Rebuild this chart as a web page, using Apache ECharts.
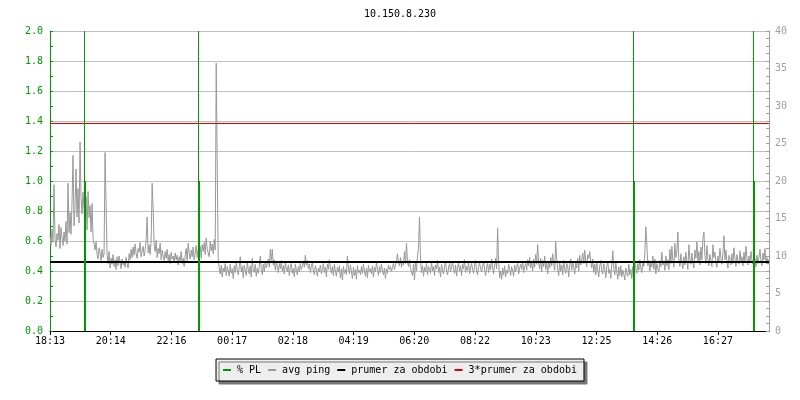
<!DOCTYPE html>
<html>
<head>
<meta charset="utf-8">
<script src="https://cdn.jsdelivr.net/npm/echarts@6/dist/echarts.min.js"></script>
<style>html,body{margin:0;padding:0;background:#fff;}#c{width:800px;height:400px;}</style>
</head>
<body>
<div id="c"></div>
<script>
// ---- data ----
const chartTitle = '10.150.8.230';
const xTickLabels = ['18:13','20:14','22:16','00:17','02:18','04:19','06:20','08:22','10:23','12:25','14:26','16:27'];
const xTickStepMin = 121.27;   // minutes between labelled ticks
const xRangeMin = 1436;        // minutes shown
const sampleStepMin = 2.0;     // minutes between avg ping samples
const plAxisMax = 2.0;
const pingAxisMax = 40;

// avg ping, ms (right axis)
const avgPing = [
12.8,11.5,13.6,11.9,19.5,12.4,11.2,13.0,12.1,14.2,
11.0,13.8,12.5,11.4,13.2,12.0,14.6,11.6,19.7,13.1,
15.8,12.9,17.2,23.4,14.0,16.5,21.6,15.2,19.0,14.4,
25.2,17.8,15.6,18.5,16.2,
14.3,17.9,13.5,18.6,15.1,16.7,13.2,17.0,12.4,11.6,
10.8,11.9,10.2,9.6,11.1,10.4,9.4,10.9,9.8,10.3,
23.8,17.0,10.1,9.0,10.6,8.4,9.7,8.9,10.2,8.6,
9.5,8.2,9.9,8.7,10.0,9.1,8.3,9.6,8.8,9.3,
8.5,9.8,9.0,8.4,10.3,9.5,10.9,9.8,11.2,10.1,
11.6,10.3,9.7,11.0,10.5,11.8,9.9,10.7,11.3,10.0,
10.8,12.2,15.2,10.4,11.5,10.2,12.0,19.7,16.3,11.4,
10.6,12.1,9.8,11.0,10.3,11.7,9.5,10.8,10.0,9.4,
10.6,9.7,10.9,9.3,10.2,9.0,10.5,9.6,10.0,9.2,
10.4,9.5,10.1,8.8,9.9,9.3,10.6,9.0,9.7,8.6,
10.1,11.0,9.4,11.7,10.3,9.6,10.8,9.9,11.2,9.5,
10.4,11.4,9.8,10.9,10.1,11.3,9.7,11.5,10.6,11.8,
10.2,12.4,10.9,11.1,9.9,12.0,10.7,11.6,10.3,12.2,
10.8,35.7,22.1,9.4,8.3,
7.6,8.8,7.2,8.4,7.9,9.0,7.4,8.6,8.1,7.3,
8.9,7.7,8.3,7.0,8.7,7.8,9.1,8.2,7.5,8.5,
9.9,7.9,8.6,7.1,8.8,8.0,7.4,9.2,8.3,7.6,
8.7,7.2,9.7,8.1,7.8,8.9,7.3,8.4,7.7,8.6,
10.0,8.2,7.5,8.9,7.9,9.3,8.4,9.0,9.6,8.5,
10.9,9.4,10.9,8.8,9.5,8.1,9.2,8.6,7.8,9.0,
8.3,9.4,8.0,8.7,7.6,9.1,8.4,7.9,8.8,7.4,
8.5,9.0,7.7,8.3,7.2,8.9,8.1,7.5,8.6,7.9,
9.0,8.2,8.7,9.3,8.5,10.1,8.8,9.4,8.3,8.9,
7.8,8.6,9.2,8.0,7.5,8.7,8.1,7.3,8.4,7.9,
8.8,7.6,8.3,9.0,7.8,8.5,7.2,8.9,8.2,9.5,
8.4,7.7,8.6,7.4,8.9,8.0,7.3,8.5,7.9,8.7,
7.1,8.3,6.8,8.6,7.7,8.2,7.5,10.0,8.4,7.6,
8.8,7.9,7.0,8.5,7.4,8.2,6.9,8.7,7.8,8.1,
7.5,8.6,7.7,8.9,8.0,7.3,8.4,7.1,8.8,7.9,
8.3,7.6,8.7,7.2,8.5,7.9,9.1,8.2,7.4,8.6,
7.8,8.9,8.1,7.5,8.4,7.0,8.3,7.7,8.8,8.2,
8.6,7.9,8.5,9.0,8.2,8.8,9.4,10.3,9.1,8.7,
9.8,8.5,9.3,8.8,10.6,9.0,11.7,9.2,8.6,9.5,8.3,
8.1,7.4,8.9,6.8,9.3,8.0,10.1,11.0,15.2,9.6,
7.8,8.7,7.3,8.5,7.9,9.0,7.5,8.6,8.2,7.7,
9.1,8.0,8.6,7.4,8.8,8.3,9.4,7.8,8.5,7.2,
8.9,8.1,7.6,8.7,9.2,8.0,7.5,8.4,9.0,7.9,
8.6,9.3,8.2,7.7,8.8,7.3,8.5,9.1,8.0,8.7,
7.4,8.9,8.3,9.5,7.8,8.6,8.1,9.2,7.6,8.4,
9.0,8.2,7.7,8.8,9.4,8.0,7.5,8.6,9.1,8.3,
7.9,8.7,9.3,8.1,7.4,8.5,9.0,7.8,8.9,8.2,
9.6,8.4,7.6,8.8,9.7,8.3,13.7,9.2,7.1,8.0,
6.9,8.4,7.5,8.7,7.2,8.1,7.7,8.9,8.3,7.4,
8.6,8.0,7.3,8.8,7.9,8.5,9.1,7.6,8.4,8.9,
8.2,9.3,7.8,8.6,9.0,8.1,9.5,8.7,9.8,8.4,
9.2,8.0,9.6,8.5,10.2,8.9,11.5,9.1,8.3,9.7,
7.9,9.4,8.6,10.0,8.2,9.1,7.6,9.3,8.4,9.8,
8.7,10.3,9.0,8.1,11.9,9.5,8.2,7.4,9.2,8.0,
8.8,7.5,9.4,8.3,7.7,9.0,8.6,7.2,8.9,9.6,
8.1,9.3,8.5,7.6,9.1,8.4,9.7,8.0,10.1,8.8,
9.5,10.4,9.0,10.8,9.3,8.6,10.2,9.7,10.6,9.2,
8.4,9.6,7.8,8.9,7.5,9.2,8.1,7.2,8.7,9.4,
8.0,7.6,9.0,8.3,7.1,8.6,9.3,7.7,8.2,7.0,
8.8,10.7,8.4,7.5,9.1,7.9,6.9,8.5,7.4,8.7,
7.2,8.1,7.6,6.8,8.4,7.8,7.3,8.9,7.5,8.2,
7.0,8.6,7.9,9.2,8.3,7.7,9.0,8.1,9.5,8.4,
7.8,9.3,8.6,10.4,13.9,11.6,8.7,9.4,8.0,9.1,
8.5,10.0,8.2,9.6,7.6,9.0,8.3,7.9,9.4,8.6,
10.5,8.8,9.3,8.1,10.0,8.7,9.5,8.2,10.9,9.0,
11.3,9.4,8.5,11.7,9.8,10.6,13.2,9.2,8.6,10.3,
9.0,8.3,9.9,8.8,10.5,9.3,8.2,11.5,9.6,8.9,
10.4,9.1,8.4,10.8,9.7,11.9,9.3,10.6,8.8,11.2,
9.5,12.3,13.2,10.1,9.0,11.4,9.6,8.7,10.2,9.4,
8.6,11.5,9.8,10.5,9.1,8.5,10.0,9.3,11.0,9.7,
8.9,10.4,12.7,9.5,10.8,9.2,8.4,10.1,9.6,8.8,
10.3,9.0,11.1,9.7,8.6,10.2,9.4,8.9,10.7,9.3,
9.9,8.7,10.5,9.1,11.3,9.6,8.8,10.0,9.2,10.6,
9.4,8.9,10.3,9.7,8.6,10.1,9.0,9.8,10.9,9.3,
8.7,10.4,9.5,11.0,9.1,9.8,8.9,9.6
];
const meanPing = 9.23;          // prumer za obdobi, ms
const meanMultiplier = 3;       // 3*prumer za obdobi

// packet loss events (minutes from start), left axis
const plTimes = [67.9, 295.6, 1164.4, 1404.0];
const plValues = [1.0, 1.0, 1.0, 1.0];
const plPeaks = [2.0, 2.0, 2.0, 2.0];   // runs off the top of the chart

// ---- build ----
const FONT = 'DejaVu Sans Mono';
const GREEN = '#009900', GRAY = '#999999', RED = '#e00000';
const pingData = avgPing.map((v, i) => [i * sampleStepMin, v]);
const plData = plTimes.map((t, i) => [t, plValues[i], plPeaks[i]]);
const tickVals = xTickLabels.map((_, k) => k * xTickStepMin);

function hLine(width, color) {
  return (params, api) => {
    const v = api.value(1);
    const a = api.coord([api.value(0), v]);
    const b = api.coord([api.value(2), v]);
    const y = width % 2 === 1 ? Math.floor(a[1]) + 0.5 : Math.round(a[1]);
    return {type: 'line', shape: {x1: a[0], y1: y, x2: b[0], y2: y},
      style: {stroke: color, lineWidth: width}};
  };
}

const chart = echarts.init(document.getElementById('c'), null, {renderer: 'canvas'});
chart.setOption({
  animation: false,
  backgroundColor: '#ffffff',
  title: {text: chartTitle, left: 'center', top: 4,
    textStyle: {fontFamily: FONT, fontSize: 10, fontWeight: 'normal', color: '#000'}},
  legend: {
    data: ['% PL', 'avg ping', 'prumer za obdobi', '3*prumer za obdobi'],
    left: 'center', top: 359, icon: 'rect', itemWidth: 8, itemHeight: 2, itemGap: 7,
    padding: [6, 7, 6, 7],
    backgroundColor: '#eeeeee', borderColor: '#000', borderWidth: 1, borderRadius: 0,
    shadowColor: '#777', shadowBlur: 0, shadowOffsetX: 3, shadowOffsetY: 3,
    textStyle: {fontFamily: FONT, fontSize: 10, color: '#000', padding: [0, 0, 0, 1]}
  },
  grid: {left: 50, right: 31, top: 31, bottom: 69, containLabel: false},
  xAxis: {
    type: 'value', min: 0, max: xRangeMin,
    axisLine: {show: true, lineStyle: {color: '#000', width: 1}},
    axisTick: {show: true, customValues: tickVals, length: 4, lineStyle: {color: '#000'}},
    axisLabel: {customValues: tickVals, margin: 5, fontFamily: FONT, fontSize: 10, color: '#000',
      formatter: v => xTickLabels[Math.round(v / xTickStepMin)] || ''},
    splitLine: {show: false}
  },
  yAxis: [{
    type: 'value', position: 'left', min: 0, max: plAxisMax, interval: 0.2,
    axisLine: {show: true, lineStyle: {color: GREEN}},
    axisTick: {show: true, inside: true, length: 3, lineStyle: {color: GREEN}},
    minorTick: {show: true, splitNumber: 2, length: 3, lineStyle: {color: GREEN}},
    axisLabel: {margin: 7, fontFamily: FONT, fontSize: 10, color: GREEN, formatter: v => v.toFixed(1)},
    splitLine: {show: true, lineStyle: {color: '#c0c0c0', width: 1}}
  }, {
    type: 'value', position: 'right', min: 0, max: pingAxisMax, interval: 5,
    axisLine: {show: true, lineStyle: {color: '#a0a0a0'}},
    axisTick: {show: true, inside: true, length: 3, lineStyle: {color: '#a0a0a0'}},
    minorTick: {show: true, splitNumber: 5, length: 3, lineStyle: {color: '#a0a0a0'}},
    axisLabel: {margin: 6, fontFamily: FONT, fontSize: 10, color: '#a0a0a0'},
    splitLine: {show: false}
  }],
  series: [{
    name: 'avg ping', type: 'line', yAxisIndex: 1, data: pingData, showSymbol: false,
    symbol: 'none', color: GRAY, lineStyle: {color: GRAY, width: 1}, z: 2
  }, {
    name: 'prumer za obdobi', type: 'custom', yAxisIndex: 1,
    data: [[0, meanPing, xRangeMin]], encode: {x: [0, 2], y: 1},
    color: '#000', itemStyle: {color: '#000'}, z: 3, renderItem: hLine(2, '#000')
  }, {
    name: '3*prumer za obdobi', type: 'custom', yAxisIndex: 1,
    data: [[0, meanMultiplier * meanPing, xRangeMin]], encode: {x: [0, 2], y: 1},
    color: RED, itemStyle: {color: RED}, z: 3, renderItem: hLine(1, RED)
  }, {
    name: '% PL', type: 'custom', yAxisIndex: 0, data: plData, color: GREEN, itemStyle: {color: GREEN},
    encode: {x: 0, y: [1, 2]}, z: 4, clip: true,
    renderItem: (params, api) => {
      const t = api.value(0);
      const p0 = api.coord([t, 0]);
      const p1 = api.coord([t, api.value(1)]);
      const p2 = api.coord([t, Math.min(api.value(2), plAxisMax)]);
      const x = Math.round(p0[0]);
      return {type: 'group', children: [
        {type: 'line', shape: {x1: x + 0.5, y1: p0[1], x2: x + 0.5, y2: p2[1]}, style: {stroke: GREEN, lineWidth: 1}},
        {type: 'rect', shape: {x: x, y: p1[1], width: 2, height: p0[1] - p1[1]}, style: {fill: GREEN}}
      ]};
    }
  }]
});
</script>
</body>
</html>
